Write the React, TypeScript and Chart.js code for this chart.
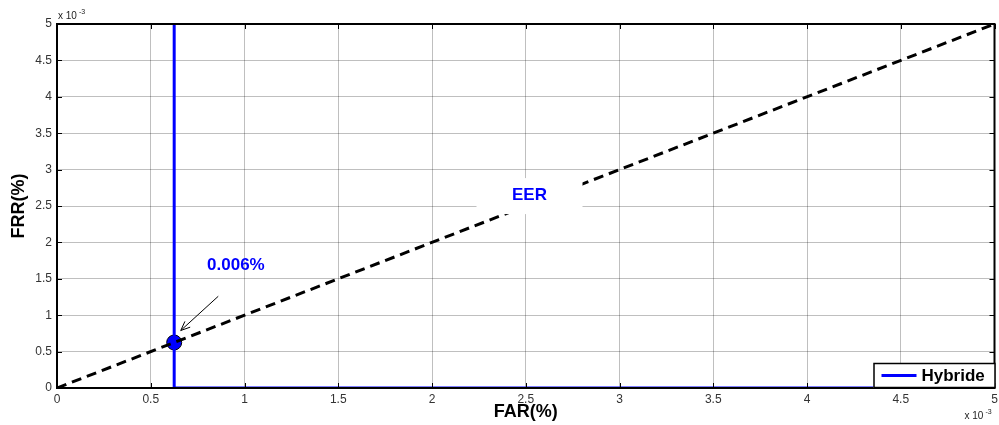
import React, { useEffect, useRef } from "react";
import { Chart, registerables } from "chart.js";

Chart.register(...registerables);

const axisTicks = [0, 0.0005, 0.001, 0.0015, 0.002, 0.0025, 0.003, 0.0035, 0.004, 0.0045, 0.005];
const eerLineX = [0, 0.005];
const eerLineY = [0, 0.005];
const hybrideX = [0.000625, 0.000625, 0.005];
const hybrideY = [0.005, 0, 0];
const eerPoint = { x: 0.000625, y: 0.000625 };
const eerLabelPos = { x: 0.00252, y: 0.00265 };
const pctLabelPos = { x: 0.000954, y: 0.00168 };
const arrowStart = { x: 0.00086, y: 0.00126 };
const arrowEnd = { x: 0.00066, y: 0.00079 };

const FONT = "'Liberation Sans', Arial, sans-serif";

export default function App() {
  const ref = useRef<HTMLCanvasElement>(null);
  useEffect(() => {
    document.body.style.margin = "0";
    const canvas = ref.current!;
    const overlay = {
      id: "overlay",
      afterDatasetsDraw(chart: any) {
        const ctx = chart.ctx;
        const xs = chart.scales.x;
        const ys = chart.scales.y;
        const a = chart.chartArea;
        ctx.save();
        // inward tick marks
        ctx.strokeStyle = "#000";
        ctx.lineWidth = 1;
        for (const v of axisTicks) {
          const px = Math.round(xs.getPixelForValue(v)) + 0.5;
          const py = Math.round(ys.getPixelForValue(v)) + 0.5;
          ctx.beginPath();
          ctx.moveTo(px, a.bottom); ctx.lineTo(px, a.bottom - 5);
          ctx.moveTo(px, a.top); ctx.lineTo(px, a.top + 5);
          ctx.moveTo(a.left, py); ctx.lineTo(a.left + 5, py);
          ctx.moveTo(a.right, py); ctx.lineTo(a.right - 5, py);
          ctx.stroke();
        }
        // border
        ctx.lineWidth = 2;
        ctx.strokeStyle = "#000";
        ctx.strokeRect(a.left, a.top, a.right - a.left, a.bottom - a.top);

        // EER label box
        const ex = xs.getPixelForValue(eerLabelPos.x);
        const ey = ys.getPixelForValue(eerLabelPos.y);
        ctx.fillStyle = "#fff";
        ctx.fillRect(ex - 53, ey - 17, 106, 36);
        ctx.fillStyle = "#0000ff";
        ctx.font = `bold 17px ${FONT}`;
        ctx.textAlign = "center";
        ctx.textBaseline = "middle";
        ctx.fillText("EER", ex, ey);

        // 0.006% label
        const lx = xs.getPixelForValue(pctLabelPos.x);
        const ly = ys.getPixelForValue(pctLabelPos.y);
        ctx.fillText("0.006%", lx, ly);

        // arrow
        const ax1 = xs.getPixelForValue(arrowStart.x);
        const ay1 = ys.getPixelForValue(arrowStart.y);
        const ax2 = xs.getPixelForValue(arrowEnd.x);
        const ay2 = ys.getPixelForValue(arrowEnd.y);
        ctx.strokeStyle = "#000";
        ctx.lineWidth = 1;
        ctx.beginPath();
        ctx.moveTo(ax1, ay1);
        ctx.lineTo(ax2, ay2);
        ctx.stroke();
        const ang = Math.atan2(ay2 - ay1, ax2 - ax1);
        const hl = 10;
        ctx.beginPath();
        ctx.moveTo(ax2 - hl * Math.cos(ang - 0.4), ay2 - hl * Math.sin(ang - 0.4));
        ctx.lineTo(ax2, ay2);
        ctx.lineTo(ax2 - hl * Math.cos(ang + 0.4), ay2 - hl * Math.sin(ang + 0.4));
        ctx.stroke();

        // exponent labels
        ctx.fillStyle = "#222";
        ctx.textAlign = "left";
        ctx.textBaseline = "alphabetic";
        ctx.font = `10px ${FONT}`;
        ctx.fillText("x 10", a.left + 1, a.top - 5);
        ctx.font = `7px ${FONT}`;
        ctx.fillText("-3", a.left + 22, a.top - 10);
        ctx.font = `10px ${FONT}`;
        ctx.fillText("x 10", a.right - 30, 419);
        ctx.font = `7px ${FONT}`;
        ctx.fillText("-3", a.right - 9, 414);

        // axis titles
        ctx.fillStyle = "#000";
        ctx.font = `bold 18px ${FONT}`;
        ctx.textAlign = "center";
        ctx.textBaseline = "middle";
        ctx.fillText("FAR(%)", (a.left + a.right) / 2, 412);
        ctx.save();
        ctx.translate(19, (a.top + a.bottom) / 2);
        ctx.rotate(-Math.PI / 2);
        ctx.fillText("FRR(%)", 0, 0);
        ctx.restore();

        // legend
        const lgW = 122, lgH = 25;
        const lgL = a.right - lgW + 1, lgT = a.bottom - lgH;
        ctx.fillStyle = "#fff";
        ctx.fillRect(lgL, lgT, lgW, lgH);
        ctx.strokeStyle = "#000";
        ctx.lineWidth = 1.5;
        ctx.strokeRect(lgL + 0.5, lgT + 0.5, lgW - 1, lgH - 1);
        ctx.strokeStyle = "#0000ff";
        ctx.lineWidth = 3;
        ctx.beginPath();
        ctx.moveTo(lgL + 8, lgT + 12.5);
        ctx.lineTo(lgL + 43, lgT + 12.5);
        ctx.stroke();
        ctx.fillStyle = "#000";
        ctx.font = `bold 17px ${FONT}`;
        ctx.textAlign = "left";
        ctx.textBaseline = "middle";
        ctx.fillText("Hybride", lgL + 48, lgT + 13);
        ctx.restore();
      },
    };

    const chart = new Chart(canvas, {
      type: "scatter",
      data: {
        datasets: [
          {
            label: "Hybride",
            data: hybrideX.map((x, i) => ({ x, y: hybrideY[i] })),
            showLine: true,
            borderColor: "#0000ff",
            borderWidth: 3,
            pointRadius: 0,
            fill: false,
          },
          {
            label: "EER line",
            data: eerLineX.map((x, i) => ({ x, y: eerLineY[i] })),
            showLine: true,
            borderColor: "#000",
            borderWidth: 3,
            borderDash: [10, 6],
            pointRadius: 0,
            fill: false,
          },
          {
            label: "EER point",
            data: [eerPoint],
            showLine: false,
            pointRadius: 7.5,
            pointBackgroundColor: "#0000ff",
            pointBorderColor: "#000",
            pointBorderWidth: 1,
          },
        ],
      },
      options: {
        responsive: false,
        animation: false,
        layout: { padding: { left: 0, top: 24, right: 0, bottom: 0 } },
        plugins: { legend: { display: false }, tooltip: { enabled: false } },
        scales: {
          x: {
            type: "linear",
            min: 0,
            max: 0.005,
            afterFit: (s: any) => { s.height = 37; },
            afterBuildTicks: (s: any) => { s.ticks = axisTicks.map((v) => ({ value: v })); },
            ticks: {
              padding: 4,
              color: "#333",
              font: { family: FONT, size: 12 },
              callback: (v: any) => String(Math.round(Number(v) * 10000) / 10),
            },
            grid: { color: "rgba(0,0,0,0.25)", lineWidth: 1, drawTicks: false },
            border: { display: false },
          },
          y: {
            type: "linear",
            min: 0,
            max: 0.005,
            afterFit: (s: any) => { s.width = 57; },
            afterBuildTicks: (s: any) => { s.ticks = axisTicks.map((v) => ({ value: v })); },
            ticks: {
              padding: 5,
              color: "#333",
              font: { family: FONT, size: 12 },
              callback: (v: any) => String(Math.round(Number(v) * 10000) / 10),
            },
            grid: { color: "rgba(0,0,0,0.25)", lineWidth: 1, drawTicks: false },
            border: { display: false },
          },
        },
      },
      plugins: [overlay],
    });
    return () => chart.destroy();
  }, []);
  return (
    <div style={{ width: 999, height: 425, overflow: "hidden" }}>
      <canvas ref={ref} width={1003} height={425} style={{ display: "block" }} />
    </div>
  );
}
